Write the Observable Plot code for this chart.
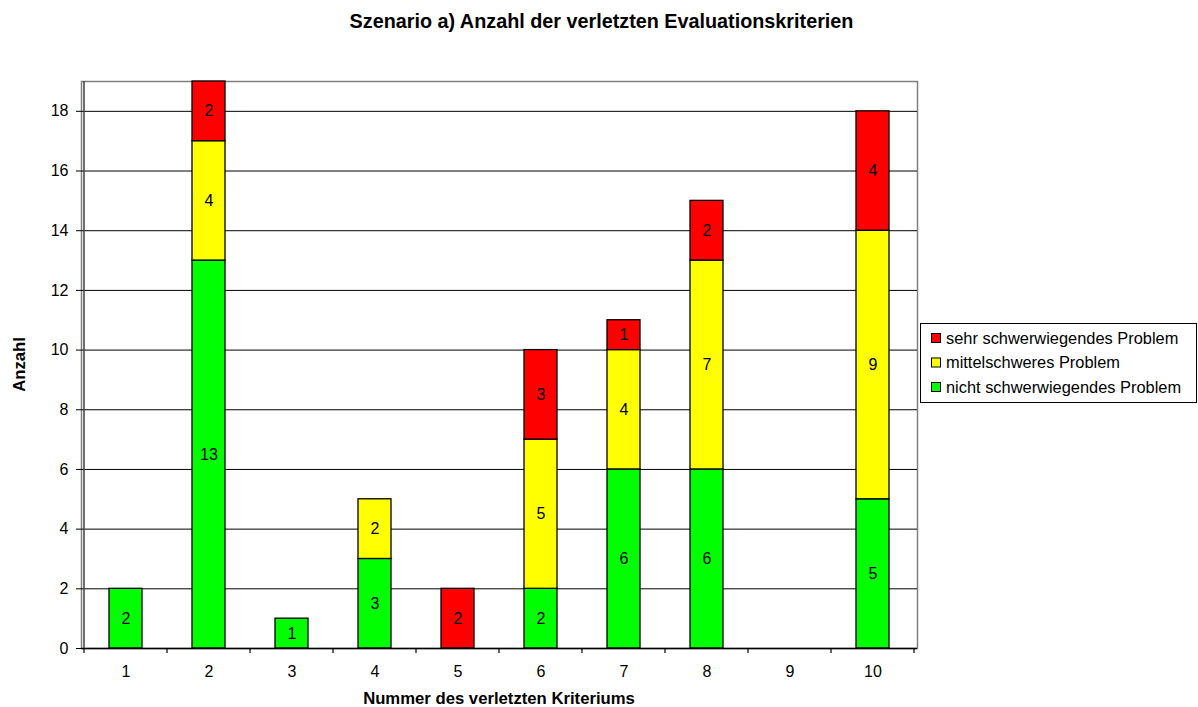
<!DOCTYPE html>
<html><head><meta charset="utf-8">
<script src="https://cdn.jsdelivr.net/npm/d3@7"></script>
<script src="https://cdn.jsdelivr.net/npm/@observablehq/plot@0.6"></script>
<style>body{margin:0;background:#fff;font-family:"Liberation Sans",Arial,sans-serif}</style>
</head><body><div id="chart"></div>
<script>
const title = "Szenario a) Anzahl der verletzten Evaluationskriterien";
const xLabel = "Nummer des verletzten Kriteriums";
const yLabel = "Anzahl";
const criteria = [1, 2, 3, 4, 5, 6, 7, 8, 9, 10];
const seriesNames = ["nicht schwerwiegendes Problem", "mittelschweres Problem", "sehr schwerwiegendes Problem"];
const seriesColors = ["#00FF00", "#FFFF00", "#FF0000"];
const nichtSchwer = [2, 13, 1, 3, 0, 2, 6, 6, 0, 5];
const mittel = [0, 4, 0, 2, 0, 5, 4, 7, 0, 9];
const sehrSchwer = [0, 2, 0, 0, 2, 3, 1, 2, 0, 4];
const yTicks = [0, 2, 4, 6, 8, 10, 12, 14, 16, 18];

const seriesValues = [nichtSchwer, mittel, sehrSchwer];
const rows = [];
criteria.forEach((c, i) => {
  seriesNames.forEach((s, j) => {
    const v = seriesValues[j][i];
    if (v > 0) rows.push({criterion: c, series: s, value: v});
  });
});

const font = "Liberation Sans, Arial, sans-serif";
const plot = Plot.plot({
  width: 1198, height: 707,
  marginLeft: 81, marginRight: 281, marginTop: 81, marginBottom: 59,
  style: {fontFamily: font, fontSize: "16px", color: "#000", background: "#fff", overflow: "visible"},
  x: {type: "band", domain: criteria, paddingInner: 0.6, paddingOuter: 0.3, label: null},
  y: {domain: [0, 19], label: null},
  color: {domain: seriesNames, range: seriesColors},
  marks: [
    Plot.frame({stroke: "#808080", strokeWidth: 1.5}),
    Plot.ruleY(yTicks.filter(d => d > 0), {stroke: "#000", strokeWidth: 1}),
    Plot.barY(rows, Plot.stackY({x: "criterion", y: "value", fill: "series", order: seriesNames, stroke: "#000", strokeWidth: 1.3})),
    Plot.text(rows, Plot.stackY({x: "criterion", y: "value", z: "series", order: seriesNames, text: d => String(d.value), fill: "#000", fontSize: 16})),
    Plot.axisY({ticks: yTicks, tickSize: 5, tickPadding: 8, label: null, fontSize: 16}),
    Plot.axisX({tickSize: 0, tickPadding: 17, label: null, fontSize: 16}),
    Plot.ruleY([0], {stroke: "#000", strokeWidth: 1.5})
  ]
});
document.getElementById("chart").appendChild(plot);

const svg = d3.select(plot);
const xs = plot.scale("x"), ys = plot.scale("y");
const half = (xs.step - xs.bandwidth) / 2;
const y0 = ys.apply(0), yTop = ys.apply(19);
const left = xs.apply(criteria[0]) - half;
const bounds = criteria.map(c => xs.apply(c) - half).concat([xs.apply(criteria[criteria.length - 1]) + xs.bandwidth + half]);
// left axis line
svg.append("line").attr("x1", left).attr("x2", left).attr("y1", yTop).attr("y2", y0 + 0.5)
  .attr("stroke", "#404040").attr("stroke-width", 1.5);
// category boundary ticks
svg.append("g").selectAll("line").data(bounds).join("line")
  .attr("x1", d => d).attr("x2", d => d).attr("y1", y0).attr("y2", y0 + 5)
  .attr("stroke", "#000").attr("stroke-width", 1.2);
// title and axis labels
const txt = (sel, size, bold, anchor) => sel.attr("text-anchor", anchor)
  .style("font-family", font).style("font-size", size + "px").style("font-weight", bold ? "bold" : "normal")
  .style("text-anchor", anchor).attr("fill", "#000");
txt(svg.append("text").attr("x", 601.5).attr("y", 28), 19.8, true, "middle").text(title);
txt(svg.append("text").attr("x", (left + bounds[bounds.length - 1]) / 2).attr("y", 704), 16.7, true, "middle").text(xLabel);
txt(svg.append("text").attr("transform", `translate(25,${(y0 + yTop) / 2}) rotate(-90)`), 16.7, true, "middle").text(yLabel);
// legend
const lg = svg.append("g");
lg.append("rect").attr("x", 920.5).attr("y", 323.5).attr("width", 276).attr("height", 79)
  .attr("fill", "#fff").attr("stroke", "#000").attr("stroke-width", 1);
const legendItems = seriesNames.map((s, i) => ({name: s, color: seriesColors[i]})).reverse();
legendItems.forEach((d, i) => {
  const cy = 338 + i * 24.5;
  lg.append("rect").attr("x", 931.5).attr("y", cy - 4.5).attr("width", 9).attr("height", 9)
    .attr("fill", d.color).attr("stroke", "#000").attr("stroke-width", 1);
  txt(lg.append("text").attr("x", 946).attr("y", cy + 5.5), 16.4, false, "start").text(d.name);
});
</script></body></html>
